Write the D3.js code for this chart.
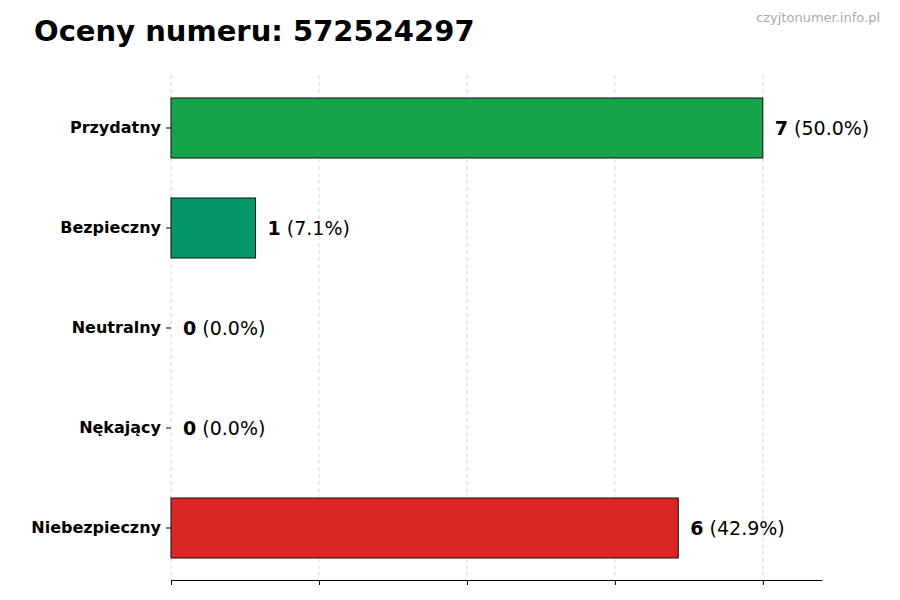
<!DOCTYPE html>
<html><head><meta charset="utf-8">
<script src="https://cdn.jsdelivr.net/npm/d3@7"></script>
<style>body{margin:0;background:#fff}</style></head>
<body><svg id="c" width="900" height="600"></svg>
<script>
const categories=["Przydatny","Bezpieczny","Neutralny","Nękający","Niebezpieczny"];
const values=[7,1,0,0,6];
const percents=["50.0%","7.1%","0.0%","0.0%","42.9%"];
const colors=["#17a34a","#059669","#059669","#059669","#dc2626"];
const tickValues=[0,1.75,3.5,5.25,7];
const svg=d3.select("#c");
const font="DejaVu Sans, sans-serif";
const x=d3.scaleLinear().domain([0,7.7]).range([171,822]);
const y=d3.scaleBand().domain(categories).range([78,578]).paddingInner(0.4).paddingOuter(0.2);
svg.append("text").attr("x",34).attr("y",41).attr("font-family",font).attr("font-size",29).attr("font-weight","bold").text("Oceny numeru: 572524297");
svg.append("text").attr("x",880).attr("y",22).attr("text-anchor","end").attr("font-family",font).attr("font-size",13).attr("fill","#aaa").text("czyjtonumer.info.pl");
svg.selectAll(".g").data(tickValues).join("line").attr("x1",d=>x(d)).attr("x2",d=>x(d)).attr("y1",75).attr("y2",580).attr("stroke","#ccc").attr("stroke-dasharray","4,3").attr("stroke-width",0.8);
svg.selectAll(".b").data(categories).join("rect").attr("x",x(0)).attr("y",d=>y(d)).attr("height",y.bandwidth()).attr("width",(d,i)=>x(values[i])-x(0)).attr("fill",(d,i)=>colors[i]).attr("stroke","#111").attr("stroke-width",1);
const xa=svg.append("g").attr("transform","translate(0,580)").call(d3.axisBottom(x).tickValues(tickValues).tickFormat("").tickSize(5).tickSizeOuter(0));
xa.select(".domain").attr("stroke","#000");
const ya=svg.append("g").attr("transform","translate(171,0)").call(d3.axisLeft(y).tickSize(5));
ya.select(".domain").remove();
ya.selectAll("text").attr("font-family",font).attr("font-size",16).attr("font-weight","bold").attr("fill","#000").attr("dx","-2");
const lab=svg.selectAll(".l").data(categories).join("text").attr("x",(d,i)=>x(values[i])+12).attr("y",d=>y(d)+y.bandwidth()/2).attr("dy","0.35em").attr("font-family",font).attr("font-size",19);
lab.append("tspan").attr("font-weight","bold").text((d,i)=>values[i]);
lab.append("tspan").text((d,i)=>" ("+percents[i]+")");
</script></body></html>
